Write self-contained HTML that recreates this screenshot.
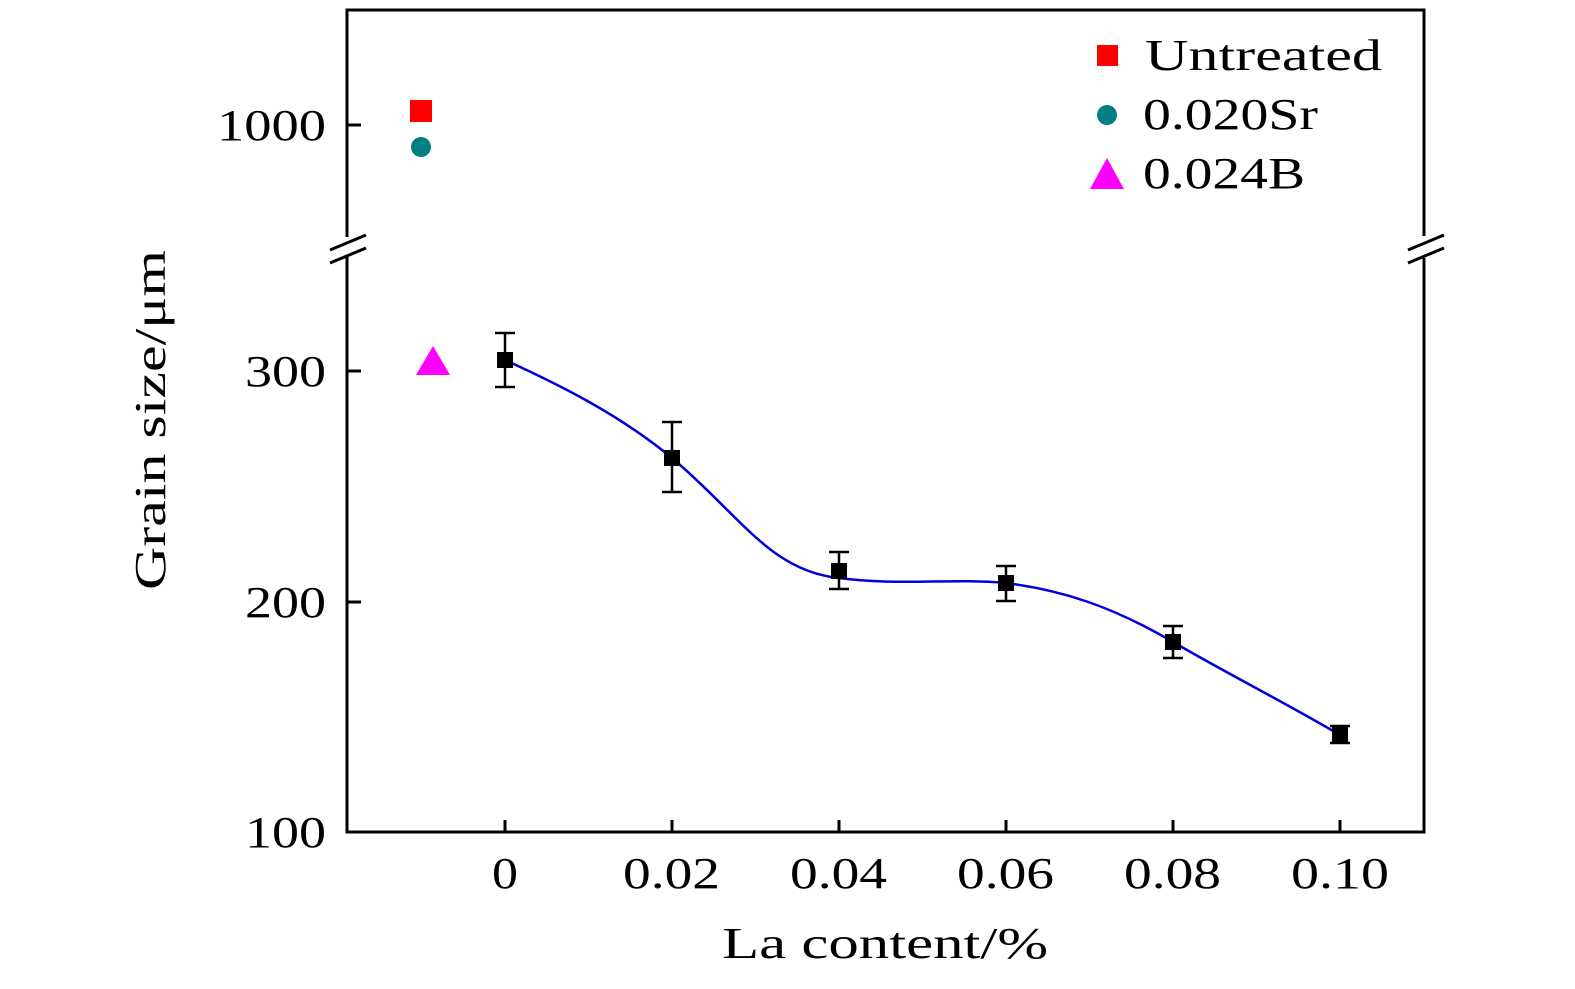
<!DOCTYPE html>
<html><head><style>body{margin:0;background:#fff}</style></head><body>
<svg width="1575" height="984" xmlns="http://www.w3.org/2000/svg" font-family="Liberation Serif, serif" font-size="44">
<rect width="1575" height="984" fill="#fff"/>
<g stroke="#000" stroke-width="3" fill="none">
<path d="M347,237 V10 H1424 V236 M1424,258 V832 H347 V257"/>
<path d="M330,250 L366,235 M330,263 L366,248"/>
<path d="M1408,250 L1444,235 M1408,263 L1444,248"/>
<path d="M347,125 h14 M347,371 h14 M347,602 h14 M347,832 h14"/>
<path d="M505,832 v-12 M672,832 v-12 M839,832 v-12 M1006,832 v-12 M1173,832 v-12 M1340,832 v-12"/>
</g>
<g lengthAdjust="spacingAndGlyphs">
<text x="217" y="140" textLength="109" lengthAdjust="spacingAndGlyphs">1000</text>
<text x="245" y="386" textLength="81" lengthAdjust="spacingAndGlyphs">300</text>
<text x="245" y="617" textLength="81" lengthAdjust="spacingAndGlyphs">200</text>
<text x="245" y="847" textLength="81" lengthAdjust="spacingAndGlyphs">100</text>
<text x="492" y="888" textLength="26" lengthAdjust="spacingAndGlyphs">0</text>
<text x="623" y="888" textLength="97" lengthAdjust="spacingAndGlyphs">0.02</text>
<text x="790" y="888" textLength="97" lengthAdjust="spacingAndGlyphs">0.04</text>
<text x="957" y="888" textLength="97" lengthAdjust="spacingAndGlyphs">0.06</text>
<text x="1124" y="888" textLength="97" lengthAdjust="spacingAndGlyphs">0.08</text>
<text x="1291" y="888" textLength="98" lengthAdjust="spacingAndGlyphs">0.10</text>
<text x="722" y="958" textLength="326" lengthAdjust="spacingAndGlyphs">La content/%</text>
<text transform="translate(165,590) rotate(-90)" textLength="340" lengthAdjust="spacingAndGlyphs">Grain size/μm</text>
<text x="1145" y="70" textLength="237" lengthAdjust="spacingAndGlyphs">Untreated</text>
<text x="1143" y="129" textLength="175" lengthAdjust="spacingAndGlyphs">0.020Sr</text>
<text x="1143" y="188" textLength="162" lengthAdjust="spacingAndGlyphs">0.024B</text>
</g>
<path d="M505,360 C560,385 620,415 672,458 C740,515 770,571 839,578 C900,586 950,578 1006,583 C1060,590 1110,605 1173,642 C1230,675 1280,700 1340,735" stroke="#0000dd" stroke-width="2.5" fill="none"/>
<g stroke="#000" stroke-width="2.5">
<path d="M505,333 V387 M495,333 h20 M495,387 h20"/>
<path d="M672,422 V492 M662,422 h20 M662,492 h20"/>
<path d="M839,552 V589 M829,552 h20 M829,589 h20"/>
<path d="M1006,566 V601 M996,566 h20 M996,601 h20"/>
<path d="M1173,626 V658 M1163,626 h20 M1163,658 h20"/>
<path d="M1340,726 V743 M1330,726 h20 M1330,743 h20"/>
</g>
<g fill="#000">
<rect x="497" y="352" width="16" height="16"/><rect x="664" y="450" width="16" height="16"/><rect x="831" y="563" width="16" height="16"/><rect x="998" y="575" width="16" height="16"/><rect x="1165" y="634" width="16" height="16"/><rect x="1332" y="727" width="16" height="16"/>
</g>
<rect x="410" y="100" width="22" height="22" fill="#f00"/>
<circle cx="421" cy="147" r="10" fill="#008080"/>
<polygon points="433,346 450,375 416,375" fill="#f0f"/>
<rect x="1097" y="45" width="21" height="21" fill="#f00"/>
<circle cx="1107" cy="115" r="10" fill="#008080"/>
<polygon points="1107,158 1124,189 1090,189" fill="#f0f"/>
</svg>
</body></html>
